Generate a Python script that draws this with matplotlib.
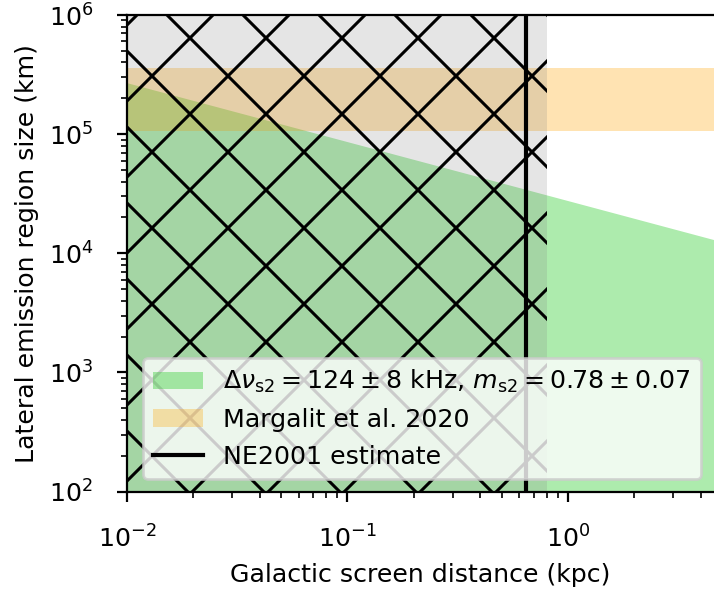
import numpy as np
import matplotlib
matplotlib.use('Agg')
import matplotlib.pyplot as plt

# Data
dist_kpc = [0.01, 4.6]            # Galactic screen distance
size_max_km = [2.7e5, 1.3e4]      # upper limit on emission region size
margalit_km = [1.06e5, 3.6e5]     # Margalit et al. 2020 range
excluded_kpc = [0.01, 0.80]       # hatched region
ne2001_kpc = 0.645                # NE2001 estimate

# hatch spacing is tied to dpi, so draw at high dpi and scale point sizes down
DPI = 456
S = 182 / DPI     # text
T = 200 / DPI     # ticks / lines
PAD = 3.5 * S + 2.4
plt.rcParams.update({
    'font.size': 10 * S,
    'axes.linewidth': 0.8 * T,
    'axes.labelpad': 4 * S,
    'xtick.major.size': 3.5 * T, 'xtick.major.width': 0.8 * T,
    'xtick.minor.size': 2 * T, 'xtick.minor.width': 0.6 * T,
    'xtick.major.pad': PAD, 'xtick.minor.pad': PAD,
    'ytick.major.size': 3.5 * T, 'ytick.major.width': 0.8 * T,
    'ytick.minor.size': 2 * T, 'ytick.minor.width': 0.6 * T,
    'ytick.major.pad': PAD, 'ytick.minor.pad': PAD,
    'lines.linewidth': 1.5 * T,
    'patch.linewidth': 1.0 * T,
    'hatch.linewidth': 1.1 * T,
})

fig = plt.figure(figsize=(714 / DPI, 594 / DPI), dpi=DPI)
ax = fig.add_axes([127 / 714, 102.5 / 594, 587 / 714, 476.5 / 594])

ax.fill_between(dist_kpc, [1e1, 1e1], size_max_km, color='limegreen', alpha=0.4, lw=0,
                label=r'$\Delta\nu_{\mathrm{s2}} = 124 \pm 8$ kHz, $m_{\mathrm{s2}} = 0.78 \pm 0.07$')
ax.axhspan(margalit_km[0], margalit_km[1], color='orange', alpha=0.3, lw=0,
           label='Margalit et al. 2020')
ax.axvspan(excluded_kpc[0], excluded_kpc[1], facecolor=(0.5, 0.5, 0.5, 0.2),
           edgecolor='k', hatch='xx', lw=0)
ax.axvline(ne2001_kpc, color='k', label='NE2001 estimate')

ax.set_xscale('log')
ax.set_yscale('log')
ax.set_xlim(0.01, 4.6)
ax.set_ylim(1e2, 1e6)
ax.spines['right'].set_visible(False)
ax.set_xlabel('Galactic screen distance (kpc)')
ax.set_ylabel('Lateral emission region size (km)')
ax.legend(loc='lower right')

fig.savefig('out.png', dpi=DPI)
